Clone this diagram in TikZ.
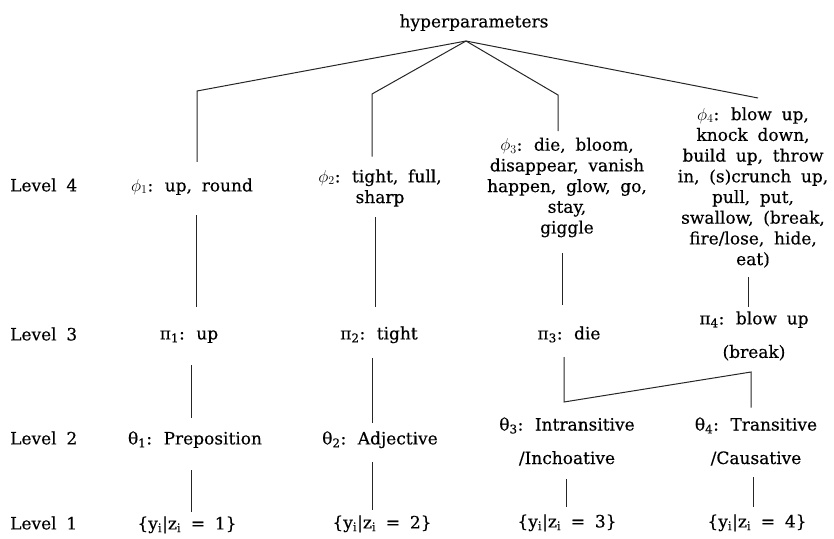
\documentclass[tikz,border=0pt]{standalone}
\usepackage{fontspec}
\setmainfont[WordSpace=1.8, FakeBold=0.35]{DejaVu Serif}
\begin{document}
\begin{tikzpicture}[x=1pt,y=-1pt,
  every node/.style={inner sep=0pt, font=\fontsize{17}{20.7}\selectfont},
  one/.style={text height=12.9pt, text depth=4.1pt},
  multi/.style={align=center},
  wide/.style={align=center, font=\fontsize{17}{33.5}\selectfont},
  conn/.style={draw=black!85, line width=1pt}]
\useasboundingbox (0,0) rectangle (834,538);

% level labels
\node[one, anchor=west] (L4) at (10,187) {Level 4};
\node[one, anchor=west] (L3) at (10,336) {Level 3};
\node[one, anchor=west] (L2) at (10,440) {Level 2};
\node[one, anchor=west] (L1) at (10,525) {Level 1};

% root
\node[one] (hyper) at (474,23) {hyperparameters};
\coordinate (apex) at (466,41);

% branch 1
\node[one] (phi1) at (192,187) {$\phi_1$: up, round};
\node[one] (pi1) at (189,335) {π\textsubscript{1}: up};
\node[one] (th1) at (195,440) {θ\textsubscript{1}: Preposition};
\node[one] (y1) at (187,525) {\{y\textsubscript{i}|z\textsubscript{i} = 1\}};

% branch 2
\node[multi] (phi2) at (380,188) {$\phi_2$: tight, full,\\sharp};
\node[one] (pi2) at (379,335) {π\textsubscript{2}: tight};
\node[one] (th2) at (380,440) {θ\textsubscript{2}: Adjective};
\node[one] (y2) at (382,524) {\{y\textsubscript{i}|z\textsubscript{i} = 2\}};

% branch 3
\node[multi] (phi3) at (567,187.5) {$\phi_3$: die, bloom,\\disappear, vanish\\happen, glow, go,\\stay,\\giggle};
\node[one] (pi3) at (569,335) {π\textsubscript{3}: die};
\node[wide] (th3) at (567,441.5) {θ\textsubscript{3}: Intransitive\\/Inchoative};
\node[one] (y3) at (567,523) {\{y\textsubscript{i}|z\textsubscript{i} = 3\}};

% branch 4
\node[multi] (phi4) at (753,187.5) {$\phi_4$: blow up,\\knock down,\\build up, throw\\in, (s)crunch up,\\pull, put,\\swallow, (break,\\fire/lose, hide,\\eat)};
\node[wide] (pi4) at (754,336) {π\textsubscript{4}: blow up\\(break)};
\node[wide] (th4) at (756,441.5) {θ\textsubscript{4}: Transitive\\/Causative};
\node[one] (y4) at (757,523) {\{y\textsubscript{i}|z\textsubscript{i} = 4\}};

% corner and column coordinates
\coordinate (c1) at (197,91);
\coordinate (c2) at (372,94);
\coordinate (c3) at (558,95);
\coordinate (c4) at (758,98);
\coordinate (k1a) at (196,0);
\coordinate (k1b) at (191,0);
\coordinate (k2a) at (375,0);
\coordinate (k2b) at (372,0);
\coordinate (k3a) at (562,0);
\coordinate (k3b) at (566,0);
\coordinate (d3) at (564,402);
\coordinate (d4) at (751,372);
\coordinate (k4a) at (748,0);
\coordinate (k4b) at (753,0);

% top fan
\draw[conn, shorten >=16.5pt] (apex) -- (c1) -- (c1 |- phi1.north);
\draw[conn, shorten >=12.5pt] (apex) -- (c2) -- (c2 |- phi2.north);
\draw[conn, shorten >=6.5pt] (apex) -- (c3) -- (c3 |- phi3.north);
\draw[conn] (apex) -- (c4);

% branch 1
\draw[conn, shorten <=19.5pt, shorten >=19.5pt] (phi1.south -| k1a) -- (pi1.north -| k1a);
\draw[conn, shorten <=21.5pt, shorten >=13.5pt] (pi1.south -| k1b) -- (th1.north -| k1b);
\draw[conn, shorten <=21.5pt, shorten >=4.5pt] (th1.south -| k1b) -- (y1.north -| k1b);

% branch 2
\draw[conn, shorten <=10.5pt, shorten >=19.5pt] (phi2.south -| k2a) -- (pi2.north -| k2a);
\draw[conn, shorten <=14.5pt, shorten >=8.5pt] (pi2.south -| k2b) -- (th2.north -| k2b);
\draw[conn, shorten <=13.5pt, shorten >=5.5pt] (th2.south -| k2b) -- (y2.north -| k2b);

% branch 3
\draw[conn, shorten <=15.5pt, shorten >=21.5pt] (phi3.south -| k3a) -- (pi3.north -| k3a);
\draw[conn, shorten <=13.5pt, shorten >=9.5pt] (pi3.south -| d3) -- (d3) -- (d4) -- (d4 |- th4.north);
\draw[conn, shorten <=13.5pt, shorten >=7.5pt] (th3.south -| k3b) -- (y3.north -| k3b);

% branch 4
\draw[conn, shorten <=9.5pt, shorten >=4.5pt] (phi4.south -| k4a) -- (pi4.north -| k4a);
\draw[conn, shorten <=11.5pt, shorten >=7.5pt] (th4.south -| k4b) -- (y4.north -| k4b);
\end{tikzpicture}
\end{document}
